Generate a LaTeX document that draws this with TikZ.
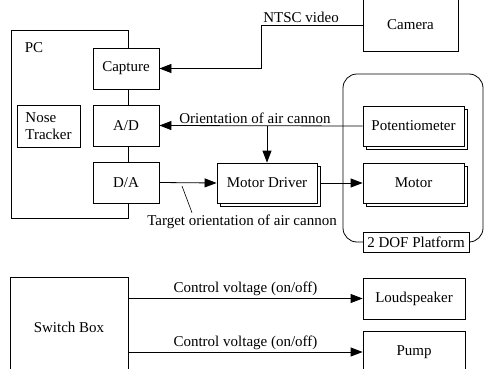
\documentclass[tikz,border=0pt]{standalone}
\usepackage{fontspec}
\setmainfont{Liberation Serif}
\usetikzlibrary{arrows.meta,shadows}

\begin{document}
\begin{tikzpicture}
  [x=1pt,y=-1pt,line width=.8pt,font=\fontsize{15}{17}\selectfont,
   every node/.style={inner sep=2pt},
   block/.style={draw,fill=white,minimum width=66pt,minimum height=41pt},
   stack/.style={block,copy shadow={draw,fill=white,line width=.8pt,shadow xshift=3pt,shadow yshift=-3pt}},
   arr/.style={-{Triangle[length=12pt,width=9pt]}}]

  \path[use as bounding box] (0,0) rectangle (484,369);
  \clip (0,0) rectangle (484,369);

  % PC and its boards
  \draw (11,30) rectangle (128,218);
  \node at (34,48) {PC};
  \node[block] (capture) at (126,68.5) {Capture};
  \node[block] (ad) at (126,125.5) {A/D};
  \node[block] (da) at (126,182.5) {D/A};
  \node[block,align=left,minimum width=63pt,minimum height=42pt] (nose) at (48.5,126) {Nose\\Tracker};

  \node[block,minimum width=95pt,minimum height=52pt] (camera) at (410.5,25) {Camera};

  % platform
  \draw[rounded corners=14pt] (343,74) rectangle (483,242);
  \node[block,minimum width=106pt,minimum height=20pt,inner sep=1pt] (platform) at (416,242) {2 DOF Platform};
  \node[stack,minimum width=101pt,minimum height=40pt] (pot) at (413.5,126) {Potentiometer};
  \node[stack,minimum width=101pt,minimum height=40pt] (motor) at (413.5,183) {Motor};
  \node[stack,minimum width=100pt,minimum height=40pt] (driver) at (267,183) {Motor Driver};

  \draw[arr] (camera.west) -- (261,25) coordinate (bend) |- (capture.east);
  \node[anchor=south west] at (bend) {NTSC video};

  \draw[arr] (pot.west) -- (ad.east) node[pos=.53,above] {Orientation of air cannon};
  \draw[arr] (driver.north |- pot.west) -- (driver.north);
  \draw[arr] (da.east) -- (driver.west);
  \draw[arr] ([xshift=3pt]driver.east) -- (motor.west);

  \node (target) at (242,222) {Target orientation of air cannon};
  \coordinate (tpin) at (182,186);
  \draw[line width=.6pt] (tpin) -- ([xshift=-50pt]target.north);

  % switch box outputs
  \node[block,minimum width=118pt,minimum height=100pt] (switch) at (69,327) {Switch Box};
  \node[block,minimum width=102pt,minimum height=41pt] (speaker) at (414,298.5) {Loudspeaker};
  \node[block,minimum width=102pt,minimum height=42pt] (pump) at (414,352) {Pump};

  \foreach \out in {speaker,pump}
    \draw[arr] (switch.east |- \out.west) -- (\out.west) node[midway,above] {Control voltage (on/off)};

\end{tikzpicture}
\end{document}
